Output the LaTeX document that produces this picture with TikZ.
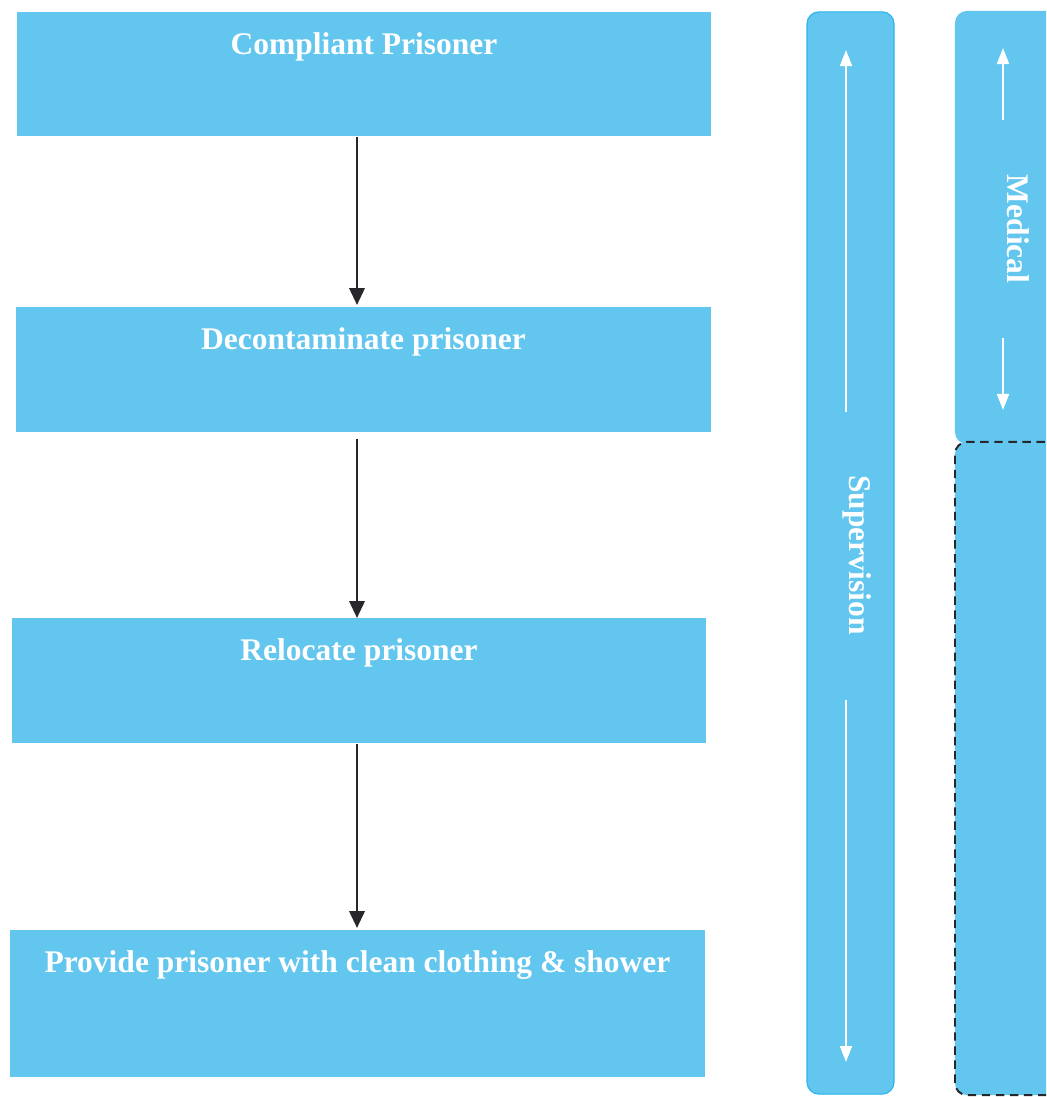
\documentclass[tikz,border=0pt]{standalone}
\usepackage{fontspec}
\setmainfont{Liberation Serif}
\usetikzlibrary{arrows.meta}
\definecolor{boxblue}{RGB}{98,198,238}
\definecolor{laneedge}{RGB}{40,182,232}
\definecolor{flowgray}{RGB}{40,40,44}
\tikzset{
 stage/.style={fill=boxblue,anchor=north,minimum width=17.35cm,inner sep=0pt,text=white,
  font=\bfseries\fontsize{22.4}{26}\selectfont,text height=1.05cm},
 lane/.style={fill=boxblue,rounded corners=0.3cm,inner sep=0pt},
 lanetext/.style={text=white,rotate=-90,font=\bfseries\fontsize{22.4}{26}\selectfont},
 flow/.style={draw=flowgray,line width=1.8pt,-{Triangle[width=0.38cm,length=0.42cm]}},
 laneflow/.style={draw=white,line width=1.3pt,-{Triangle[width=0.3cm,length=0.4cm]}}
}
\begin{document}
\begin{tikzpicture}[x=0.025cm,y=-0.025cm]
 \path[use as bounding box,clip](0,0) rectangle (1046,1097);
 \node[stage,text depth=2.05cm](comply) at (364,12) {Compliant Prisoner};
 \node[stage,text depth=2.075cm](decon) at (363.5,307) {Decontaminate prisoner};
 \node[stage,text depth=2.075cm](relocate) at (359,618) {Relocate prisoner};
 \node[stage,text depth=2.625cm](shower) at (357.5,930) {Provide prisoner with clean clothing \& shower};
 \coordinate (spine) at (357,0);
 \draw[flow,shorten >=0.05cm](comply.south -| spine) -- (decon.north -| spine);
 \draw[flow,shorten <=0.15cm](decon.south -| spine) -- (relocate.north -| spine);
 \draw[flow,shorten >=0.05cm](relocate.south -| spine) -- (shower.north -| spine);
 \node[lane,draw=laneedge,line width=0.8pt,minimum width=2.175cm,minimum height=27.05cm](sup) at (850.5,553) {};
 \node[lanetext](suptext) at (857,555) {Supervision};
 \coordinate (supa) at (846,412);
 \coordinate (supb) at (846,50);
 \coordinate (supc) at (846,700);
 \coordinate (supd) at (846,1062);
 \draw[laneflow](supa) -- (supb);
 \draw[laneflow](supc) -- (supd);
 \node[lane,minimum width=3.25cm,minimum height=10.825cm](med) at (1020,227.5) {};
 \node[lanetext](medtext) at (1018,229) {Medical};
 \coordinate (meda) at (1003,120);
 \coordinate (medb) at (1003,48);
 \coordinate (medc) at (1003,338);
 \coordinate (medd) at (1003,410);
 \draw[laneflow](meda) -- (medb);
 \draw[laneflow](medc) -- (medd);
 \node[lane,draw=flowgray,line width=1.4pt,dash pattern=on 6pt off 4pt,minimum width=3.25cm,minimum height=16.325cm](spare) at (1020,768.5) {};
\end{tikzpicture}
\end{document}
